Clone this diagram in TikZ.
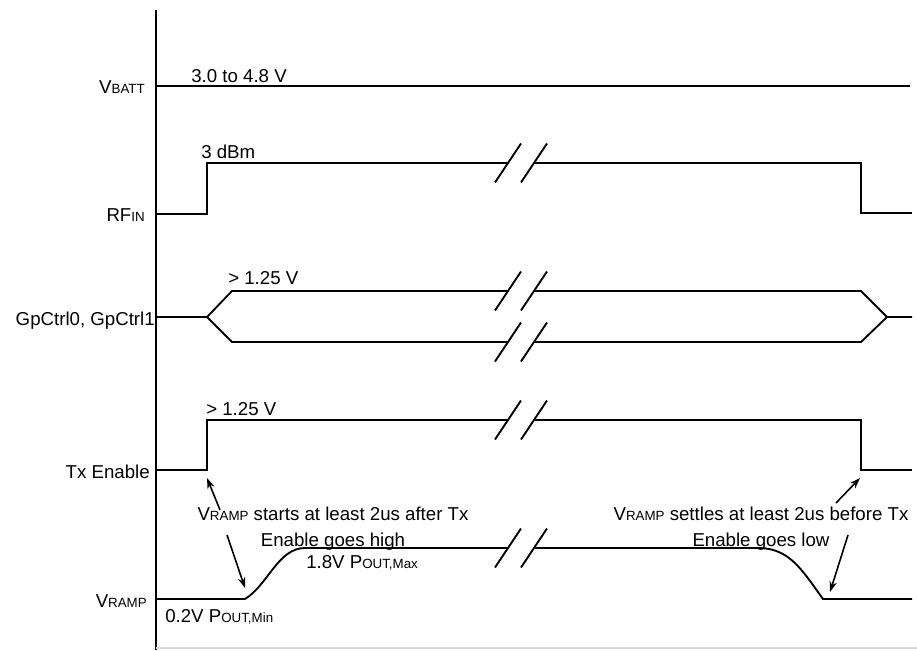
\documentclass[tikz,border=0pt]{standalone}
\usepackage{fontspec}
\setmainfont{Liberation Sans}
\usetikzlibrary{arrows.meta}
\newcommand{\fs}{\fontsize{14}{19.5}\selectfont}
\newcommand{\sbs}[1]{\raisebox{-0.6pt}{\fontsize{10}{10}\selectfont #1}}
\begin{document}
\begin{tikzpicture}[x=0.75pt,y=-0.75pt,
  sig/.style={line width=1.4pt, line join=miter},
  lbl/.style={inner sep=0pt, font=\fs},
  note/.style={-{Stealth[length=8pt,width=5.5pt]}, line width=1.2pt}]
\useasboundingbox (0,0) rectangle (917,650);
% axis
\draw[sig] (156,10) coordinate (axtop) -- (156,650) coordinate (axbot);
\draw[black!15, line width=1pt] (156,648) coordinate (gl) -- (917,648) coordinate (gr);
% left labels
\node[lbl, anchor=base east] (lvbatt) at (145,93) {V\sbs{BATT}};
\node[lbl, anchor=base east] (lrf) at (145,221) {RF\sbs{IN}};
\node[lbl, anchor=base east] (lgp) at (155,325) {GpCtrl0, GpCtrl1};
\node[lbl, anchor=base east] (ltx) at (150,478) {Tx Enable};
\node[lbl, anchor=base east] (lvr) at (147,607) {V\sbs{RAMP}};
% value labels
\node[lbl, anchor=base west] (vb) at (191,82) {3.0 to 4.8 V};
\node[lbl, anchor=base west] (vrf) at (201,158) {3 dBm};
\node[lbl, anchor=base west] (vgp) at (228,284) {> 1.25 V};
\node[lbl, anchor=base west] (vtx) at (206,415) {> 1.25 V};
\node[lbl, anchor=base west] (vmin) at (165,622) {0.2V P\sbs{OUT,Min}};
\node[lbl, anchor=base west] (vmax) at (306,568) {1.8V P\sbs{OUT,Max}};
% VBATT
\draw[sig] (156,86) -- (910,86);
% RF IN
\draw[sig] (156,214) -- (207,214) -- (207,163) -- (508,163);
\draw[sig] (534,163) -- (861,163) -- (861,213) -- (912,213);
% GpCtrl
\draw[sig] (156,317) -- (207,317) -- (232,291) -- (508,291);
\draw[sig] (207,317) -- (232,342) -- (508,342);
\draw[sig] (534,291) -- (861,291) -- (887,317) -- (912,317);
\draw[sig] (534,342) -- (861,342) -- (887,317);
% Tx Enable
\draw[sig] (156,470) -- (207,470) -- (207,420) -- (508,420);
\draw[sig] (534,420) -- (861,420) -- (861,470) -- (912,470);
% VRAMP
\draw[sig] (156,599) -- (245,599) .. controls (268,585) and (278,548) .. (305,548) -- (508,548);
\draw[sig] (534,548) -- (760,548) .. controls (790,549) and (802,570) .. (823,599) -- (912,599);
% break marks
\foreach \yy in {163,291,342,420,548}{
  \draw[sig] (495,\yy+19.5) -- (521,\yy-19.5);
  \draw[sig] (521,\yy+19.5) -- (547,\yy-19.5);
}
% annotations
\node[lbl, anchor=base] (n1a) at (333,520) {V\sbs{RAMP} starts at least 2us after Tx};
\node[lbl, anchor=base] (n1b) at (333,546) {Enable goes high};
\node[lbl, anchor=base] (n2a) at (761,520) {V\sbs{RAMP} settles at least 2us before Tx};
\node[lbl, anchor=base] (n2b) at (761,546) {Enable goes low};
\coordinate (t1s) at (220,510); \coordinate (t1e) at (207,478);
\coordinate (t2s) at (227,535); \coordinate (t2e) at (245,588);
\coordinate (t3s) at (836,503); \coordinate (t3e) at (860,478);
\coordinate (t4s) at (848,535); \coordinate (t4e) at (830,592);
\draw[note] (t1s) -- (t1e);
\draw[note] (t2s) -- (t2e);
\draw[note] (t3s) -- (t3e);
\draw[note] (t4s) -- (t4e);
\end{tikzpicture}
\end{document}
